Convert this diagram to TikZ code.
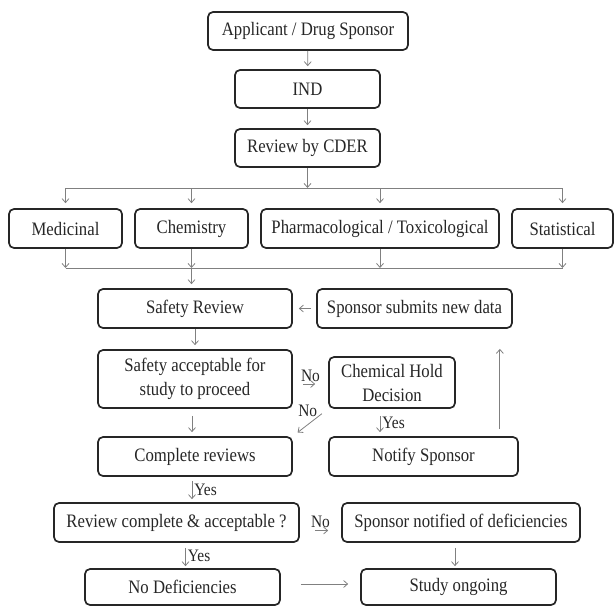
\documentclass[tikz,border=0pt]{standalone}
\usepackage{fontspec}
\setmainfont[FakeStretch=0.88]{Liberation Serif}
\usetikzlibrary{arrows.meta,positioning}

\begin{document}
\begin{tikzpicture}[
  x=1pt, y=-1pt,
  box/.style={draw=black!85, line width=1.7pt, rounded corners=5pt, minimum height=39pt,
              inner sep=2pt, align=center, text=black!85, font=\fontsize{19}{24}\selectfont},
  arr/.style={-{Straight Barb[length=4pt,width=7pt]}, line width=0.8pt, draw=black!50},
  link/.style={line width=0.8pt, draw=black!50},
  lbl/.style={font=\fontsize{17.5}{18}\selectfont, text=black!85, inner sep=2pt}
]
\useasboundingbox (0,0) rectangle (615,605);

% Submission and review
\node[box, minimum width=200pt, minimum height=38pt] (app) at (308,31) {Applicant / Drug Sponsor};
\node[box, minimum width=145pt, minimum height=38pt] (ind) at (307.5,89) {IND};
\node[box, minimum width=145pt, minimum height=38pt] (cder) at (307.5,148) {Review by CDER};

\draw[arr, shorten >=3pt] (app) -- (ind);
\draw[arr, shorten >=3pt] (ind) -- (cder);

% Review disciplines
\node[box, minimum width=113pt] (med) at (65.5,228.5) {Medicinal};
\node[box, minimum width=113pt] (chem) at (191.5,228.5) {Chemistry};
\node[box, minimum width=238pt] (pharm) at (380,228.5) {Pharmacological / Toxicological};
\node[box, minimum width=101pt] (stat) at (562.5,228.5) {Statistical};

\coordinate (split) at (307.5,188);
\coordinate (join) at (190,268);

\draw[arr] (cder) -- (split);
\draw[link] (split -| med) -- (split -| stat);
\foreach \bx in {med,chem,pharm,stat}{
  \draw[arr, shorten >=5pt] (split -| \bx) -- (\bx.north);
  \draw[arr] (\bx.south) -- (join -| \bx);
}
\draw[link] (join -| med) -- (join -| stat);

% Safety review
\node[box, minimum width=194pt] (safe) at (195,308.5) {Safety Review};
\node[box, minimum width=195pt] (sub) at (414.5,308.5) {Sponsor submits new data};
\draw[arr, shorten >=4pt] (join -| chem) -- (chem |- safe.north);
\draw[arr, shorten <=5pt, shorten >=6pt] (sub) -- (safe);

\node[box, minimum width=194pt, minimum height=58pt] (acc) at (195,379) {Safety acceptable for\\study to proceed};
\node[box, minimum width=126pt, minimum height=51pt] (hold) at (392,382.5) {Chemical Hold\\Decision};
\draw[arr, shorten >=4pt] (safe) -- (acc);
\draw[arr, shorten <=10pt, shorten >=13pt] ([yshift=-5pt]acc.east) -- ([yshift=-5pt]acc.east -| hold.west)
  node[midway, above, lbl] {No};

\node[box, minimum width=194pt] (comp) at (195,456.5) {Complete reviews};
\node[box, minimum width=189pt] (notify) at (423.5,456.5) {Notify Sponsor};
\draw[arr, shorten <=8pt, shorten >=6pt] (hold.south west) -- (comp.north east)
  node[pos=0.3, above left, lbl, inner sep=0pt] {No};
\draw[arr, shorten <=7pt, shorten >=4pt] ([xshift=-3pt]acc.south) -- ([xshift=-3pt]acc.south |- comp.north);
\draw[arr, shorten <=7pt, shorten >=4pt] ([xshift=-12pt]hold.south) -- ([xshift=-12pt]hold.south |- notify.north)
  node[midway, right, lbl] {Yes};
\draw[arr, shorten <=7pt, shorten >=20pt] ([xshift=-19pt]notify.north east) -- ([xshift=-19pt]notify.north east |- sub.south);

% Final decision
\node[box, minimum width=245pt] (rev) at (176.5,522.5) {Review complete \& acceptable ?};
\node[box, minimum width=238pt] (defic) at (461,522.5) {Sponsor notified of deficiencies};
\draw[arr, shorten <=4pt, shorten >=3pt] ([xshift=-3pt]comp.south) -- ([xshift=-3pt]comp.south |- rev.north)
  node[midway, right, lbl] {Yes};
\draw[arr, shorten <=15pt, shorten >=13pt] ([yshift=-8pt]rev.east) -- ([yshift=-8pt]rev.east -| defic.west)
  node[midway, above, lbl] {No};

\node[box, minimum width=195pt, minimum height=36pt] (nodef) at (182.5,587) {No Deficiencies};
\node[box, minimum width=195pt, minimum height=36pt] (study) at (458.5,587) {Study ongoing};
\draw[arr, shorten <=5pt, shorten >=2pt] ([xshift=9pt]rev.south) -- ([xshift=9pt]rev.south |- nodef.north)
  node[midway, right, lbl] {Yes};
\draw[arr, shorten <=5pt, shorten >=2pt] ([xshift=-6pt]defic.south) -- ([xshift=-6pt]defic.south |- study.north);
\draw[arr, shorten <=20pt, shorten >=12pt] ([yshift=3pt]nodef.east) -- ([yshift=3pt]nodef.east -| study.west);

\end{tikzpicture}
\end{document}
